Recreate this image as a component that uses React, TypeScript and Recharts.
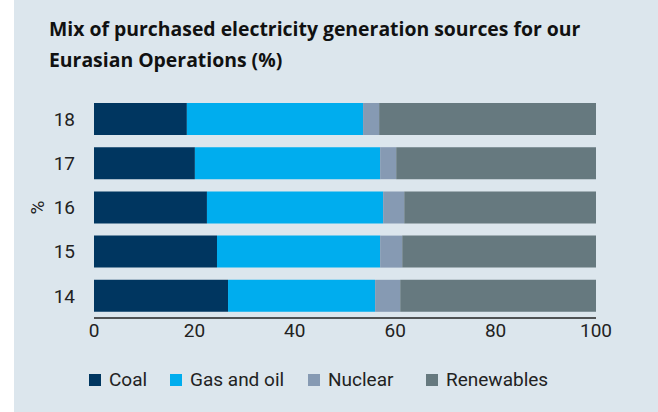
import { BarChart, Bar, XAxis, YAxis } from 'recharts';

const years = ['18', '17', '16', '15', '14'];
const coal = [18.5, 20.1, 22.5, 24.5, 26.7];
const gasOil = [35.1, 36.9, 35.1, 32.5, 29.3];
const nuclear = [3.2, 3.2, 4.2, 4.4, 5.0];
const renewables = [43.2, 39.8, 38.2, 38.6, 39.0];
const xTicks = [0, 20, 40, 60, 80, 100];

const series = [
  { key: 'coal', name: 'Coal', color: '#003660' },
  { key: 'gasOil', name: 'Gas and oil', color: '#00adee' },
  { key: 'nuclear', name: 'Nuclear', color: '#869ab3' },
  { key: 'renewables', name: 'Renewables', color: '#66797f' },
];

const data = years.map((year, i) => ({
  year,
  coal: coal[i],
  gasOil: gasOil[i],
  nuclear: nuclear[i],
  renewables: renewables[i],
}));

const font = 'Roboto, "Noto Sans", sans-serif';
const textColor = '#222';
// legend item widths so the swatches land where the original has them
const legendWidths = [81, 138, 118, 140];

const LegendRow = () => (
  <div style={{ display: 'flex', alignItems: 'center', paddingLeft: 89, fontFamily: font }}>
    {series.map((s, i) => (
      <div key={s.key} style={{ display: 'flex', alignItems: 'center', width: legendWidths[i] }}>
        <span style={{ width: 12, height: 12, background: s.color, marginRight: 8 }} />
        <span style={{ fontSize: 19, color: textColor }}>{s.name}</span>
      </div>
    ))}
  </div>
);

export default function App() {
  return (
    <div style={{ position: 'absolute', left: 0, top: 0, width: 658, height: 412, background: '#fff' }}>
      <div
        style={{
          position: 'absolute',
          left: 14,
          top: 0,
          width: 644,
          height: 412,
          background: '#dce6ed',
        }}
      />
      <div
        style={{
          position: 'absolute',
          left: 49,
          top: 13,
          fontFamily: '"Open Sans", Roboto, sans-serif',
          fontWeight: 700,
          fontSize: 19.4,
          lineHeight: '31px',
          color: '#111',
          whiteSpace: 'nowrap',
        }}
      >
        Mix of purchased electricity generation sources for our
        <br />
        Eurasian Operations (%)
      </div>
      <div style={{ position: 'absolute', left: 0, top: 0 }}>
        <BarChart
          width={658}
          height={350}
          data={data}
          layout="vertical"
          margin={{ top: 97, right: 62, left: 0, bottom: 2 }}
          barSize={32}
        >
          <XAxis
            type="number"
            domain={[0, 100]}
            ticks={xTicks}
            axisLine={{ stroke: '#222', strokeWidth: 1.5 }}
            tickLine={false}
            tickSize={0}
            tickMargin={6}
            height={30}
            tick={{ fill: textColor, fontSize: 19, fontFamily: font }}
          />
          <YAxis
            type="category"
            dataKey="year"
            width={94}
            axisLine={false}
            tickLine={false}
            tickSize={0}
            tickMargin={19}
            tick={{ fill: textColor, fontSize: 19, fontFamily: font }}
            label={{
              value: '%',
              angle: -90,
              position: 'insideLeft',
              offset: 37,
              style: { fill: textColor, fontSize: 19, fontFamily: font, textAnchor: 'middle' },
            }}
          />
          {series.map((s) => (
            <Bar
              key={s.key}
              dataKey={s.key}
              name={s.name}
              stackId="mix"
              fill={s.color}
              isAnimationActive={false}
            />
          ))}
        </BarChart>
      </div>
      <div style={{ position: 'absolute', left: 0, top: 368, width: 658 }}>
        <LegendRow />
      </div>
    </div>
  );
}
